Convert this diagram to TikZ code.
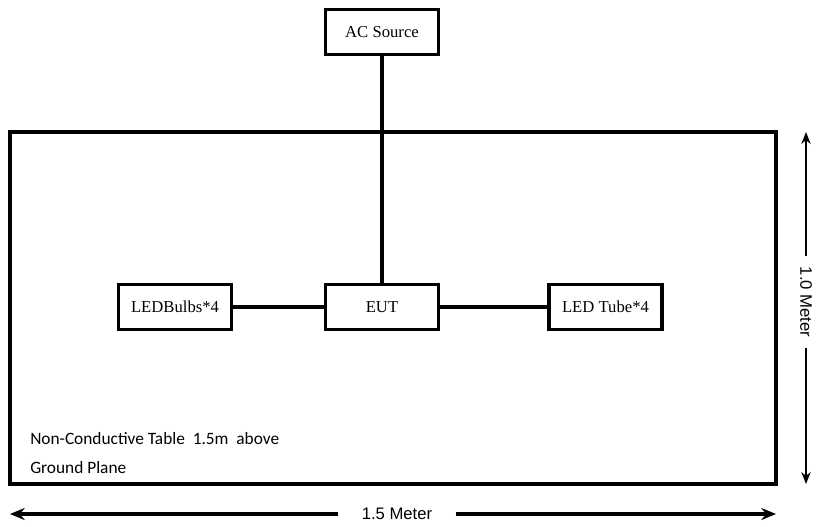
\documentclass[tikz,border=0pt]{standalone}
\usepackage{fontspec}
\setmainfont{Liberation Serif}
\newfontfamily\tablefont{Carlito}
\newfontfamily\dimfont{Liberation Sans}
\usetikzlibrary{arrows.meta, positioning}

\begin{document}
\begin{tikzpicture}[
        x=0.75pt, y=-0.75pt, on grid, >={Stealth[length=11pt,width=9pt]},
        unit/.style={draw, line width=2.6pt, minimum width=85pt, minimum height=34pt, inner sep=0pt, font=\fontsize{12.5}{14}\selectfont},
        wire/.style={line width=2.6pt},
        dimlabel/.style={inner sep=0pt, font=\dimfont\fontsize{12.5}{14}\selectfont},
        ]
        \useasboundingbox (0,0) rectangle (816,526);

        % table
        \draw[line width=2.6pt] (10,132) rectangle (776,484);
        \node[anchor=west, inner sep=0pt, font=\tablefont\fontsize{13}{15}\selectfont] (desc1) at (30,439) {Non-Conductive Table~~1.5m~~above};
        \node[anchor=west, inner sep=0pt, font=\tablefont\fontsize{13}{15}\selectfont] (desc2) at (30,468) {Ground Plane};

        \node[unit] (eut) at (382,307) {EUT};
        \node[unit, above=206.25pt of eut] (ac) {AC Source};
        \node[unit, left=155.25pt of eut] (bulbs) {LEDBulbs*4};
        \node[unit, right=167.6pt of eut] (tube) {LED Tube*4};

        \draw[wire] (ac) -- (eut);
        \draw[wire] (bulbs) -- (eut);
        \draw[wire] (eut) -- (tube);

        % dimensions
        \coordinate (wl) at (10,514);
        \coordinate (wr) at (776,514);
        \node[dimlabel, minimum width=88pt] (wlab) at (397,514) {1.5 Meter};
        \draw[->, line width=2.6pt] (wlab) -- (wl);
        \draw[->, line width=2.6pt] (wlab) -- (wr);

        \coordinate (ht) at (806,132);
        \coordinate (hb) at (806,484);
        \node[dimlabel, rotate=-90, minimum width=68pt] (hlab) at (806,302) {1.0 Meter};
        \draw[->, line width=1.1pt, >={Stealth[length=9pt,width=7pt]}] (hlab) -- (ht);
        \draw[->, line width=1.1pt, >={Stealth[length=9pt,width=7pt]}] (hlab) -- (hb);
\end{tikzpicture}
\end{document}
